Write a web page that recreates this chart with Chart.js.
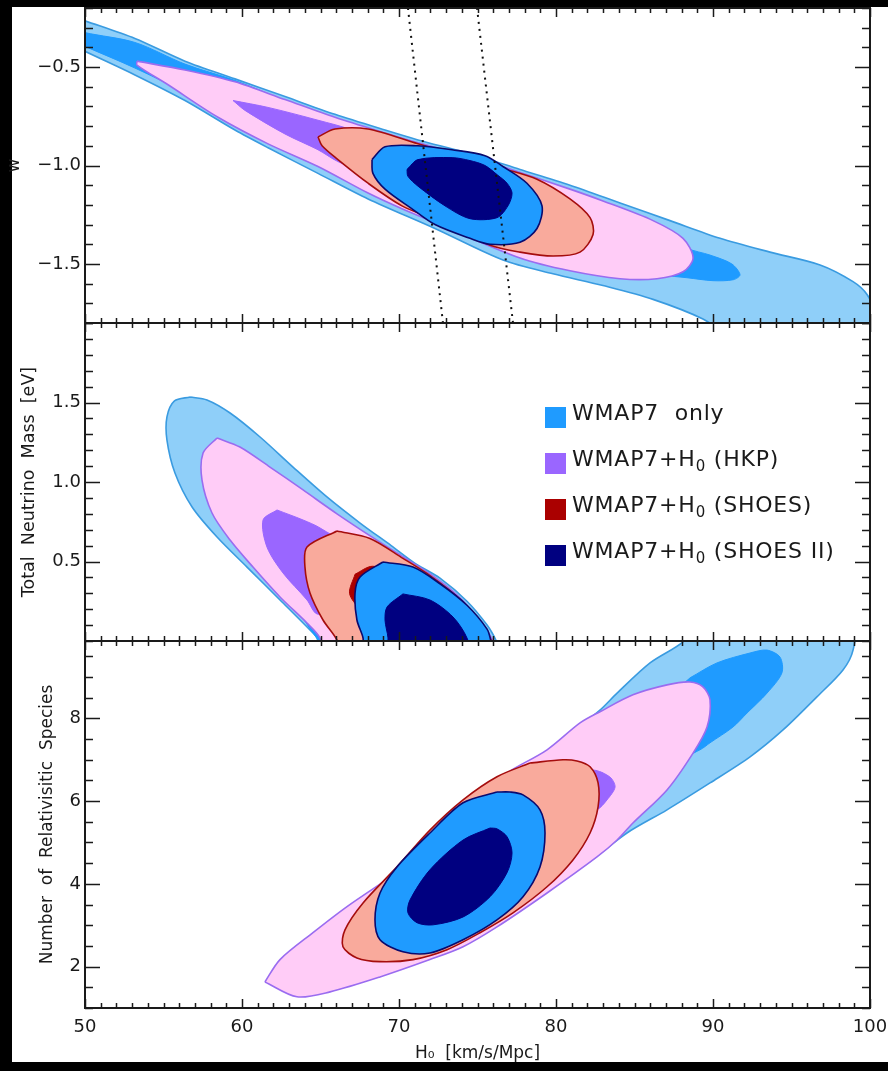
<!DOCTYPE html>
<html>
<head>
<meta charset="utf-8">
<script src="https://cdn.jsdelivr.net/npm/chart.js@4.4.1/dist/chart.umd.min.js"></script>
<style>
  body { margin: 0; background: #000; width: 888px; height: 1071px; overflow: hidden; position: relative; font-family: "DejaVu Sans", sans-serif; }
  #sheet { position: absolute; left: 12px; top: 7px; width: 876px; height: 1055px; background: #fff; }
  canvas { position: absolute; left: 0; }
  .sw { position: absolute; left: 545px; width: 21px; height: 21px; }
  .lab { position: absolute; left: 572px; font-size: 22px; line-height: 22px; letter-spacing: 0.8px; color: #1a1a1a; white-space: pre; }
  .lab sub { font-size: 15px; vertical-align: -5px; line-height: 0; }
</style>
</head>
<body>
<div id="sheet"></div>
<canvas id="panelW" width="888" height="330" style="top:0px"></canvas>
<canvas id="panelM" width="888" height="332" style="top:316px"></canvas>
<canvas id="panelN" width="888" height="437" style="top:634px"></canvas>

<div class="sw" style="top:407px;background:#1f9bff"></div>
<div class="lab" style="top:402px">WMAP7  only</div>
<div class="sw" style="top:453px;background:#9a66ff"></div>
<div class="lab" style="top:448px">WMAP7+H<sub>0</sub> (HKP)</div>
<div class="sw" style="top:499px;background:#aa0000"></div>
<div class="lab" style="top:494px">WMAP7+H<sub>0</sub> (SHOES)</div>
<div class="sw" style="top:545px;background:#000080"></div>
<div class="lab" style="top:540px">WMAP7+H<sub>0</sub> (SHOES II)</div>

<script>
// axis ticks
const xLabels = [50, 60, 70, 80, 90, 100];
const wLabels = [-1.5, -1.0, -0.5];
const mLabels = [0.5, 1.0, 1.5];
const nLabels = [2, 4, 6, 8];

// ---- top panel: w vs H0 (contour outlines, [H0, w]) ----
const wWmap95 = [[49,-0.237],[50,-0.265],[53.18,-0.355],[56.37,-0.47],[59.55,-0.56],[62.74,-0.65],[65.92,-0.74],[69.11,-0.82],[71.21,-0.87],[74.52,-0.94],[77.71,-1.02],[80.89,-1.1],[84.08,-1.19],[87.26,-1.28],[90.45,-1.37],[93.63,-1.44],[96.82,-1.505],[98.92,-1.59],[99.81,-1.655],[100.3,-1.75],[100.5,-1.95],[93,-1.95],[89.36,-1.78],[86.18,-1.68],[82.99,-1.61],[79.81,-1.55],[76.62,-1.48],[72.29,-1.32],[68.03,-1.17],[64.84,-1.04],[61.66,-0.91],[59.55,-0.82],[56.37,-0.67],[53.18,-0.54],[50,-0.42],[49,-0.38]];
const wWmap68 = [[49,-0.30],[50,-0.325],[53.18,-0.375],[56.37,-0.485],[59.55,-0.568],[62.74,-0.67],[66,-0.77],[70,-0.88],[75,-0.99],[80,-1.13],[84,-1.24],[86.5,-1.33],[88.34,-1.42],[89.81,-1.455],[91.2,-1.5],[91.72,-1.555],[91.3,-1.58],[90.0,-1.585],[88.34,-1.57],[85,-1.54],[80,-1.45],[75,-1.33],[70,-1.18],[65,-1.0],[60,-0.8],[56.37,-0.63],[53.18,-0.505],[50,-0.395],[49,-0.36]];
const wHkp95 = [[53.31,-0.47],[56.37,-0.515],[59.55,-0.575],[62.74,-0.665],[65.92,-0.755],[69.11,-0.835],[71.21,-0.885],[74.52,-0.955],[77.71,-1.035],[80.89,-1.12],[82.99,-1.18],[86.18,-1.28],[88.09,-1.37],[88.73,-1.47],[88.09,-1.54],[86.43,-1.575],[84.08,-1.575],[80.89,-1.535],[77.71,-1.47],[72.29,-1.29],[70.19,-1.22],[68.03,-1.14],[64.84,-1.005],[61.66,-0.89],[58.47,-0.755],[55.29,-0.59],[53.31,-0.49]];
const wHkp68 = [[59.43,-0.67],[61.66,-0.705],[64.84,-0.77],[67,-0.82],[69,-0.9],[70,-0.97],[69.5,-1.03],[67.5,-1.02],[66.11,-0.98],[64.84,-0.92],[62.74,-0.84],[60.19,-0.72]];
const wShoes95 = [[64.84,-0.855],[65.92,-0.815],[68.03,-0.815],[71.21,-0.89],[74.52,-0.965],[76.62,-1.015],[78.79,-1.07],[80.89,-1.17],[82.17,-1.265],[82.36,-1.35],[81.53,-1.44],[79.81,-1.46],[77.71,-1.44],[75.8,-1.405],[72.29,-1.275],[70.19,-1.205],[68.03,-1.09],[66.11,-0.97],[65.1,-0.9]];
const wShoes68 = [[70,-1.0],[72,-0.96],[75,-1.0],[77.5,-1.12],[78.3,-1.25],[77,-1.33],[74,-1.28],[71,-1.15]];
const wShoes2_95 = [[68.28,-0.97],[69.11,-0.905],[71.21,-0.9],[73.38,-0.92],[75.48,-0.95],[76.62,-1.005],[78.15,-1.09],[79.11,-1.205],[78.79,-1.32],[77.71,-1.39],[75.8,-1.4],[74.52,-1.37],[72.29,-1.3],[70.83,-1.22],[69.11,-1.12],[68.34,-1.04]];
const wShoes2_68 = [[70.51,-1.02],[71.21,-0.97],[73.38,-0.96],[74.52,-0.975],[75.48,-1.0],[76.3,-1.05],[76.88,-1.09],[77.2,-1.14],[76.94,-1.205],[76.24,-1.265],[74.52,-1.27],[72.93,-1.205],[71.21,-1.105],[70.57,-1.055]];
const wBand1 = [[70.57,-0.2],[72.8,-1.8]];
const wBand2 = [[74.97,-0.2],[77.26,-1.8]];

// ---- middle panel: total neutrino mass [eV] vs H0 ----
const mWmap95 = [[56.69,1.535],[57.77,1.516],[59.24,1.434],[61.15,1.283],[63.25,1.094],[65.41,0.906],[67.52,0.742],[69.5,0.6],[71,0.49],[72.61,0.395],[74.33,0.25],[75.61,0.1],[76.2,0.0],[76.6,-0.1],[65.0,-0.1],[64.78,0.019],[64.33,0.069],[62.42,0.258],[60.32,0.465],[58.41,0.654],[56.82,0.843],[55.73,1.057],[55.22,1.264],[55.22,1.409],[55.7,1.51]];
const mWmap68 = [[59,1.0],[61,0.95],[65,0.7],[68,0.45],[70,0.2],[70.5,-0.1],[66,-0.1],[62.5,0.35],[59.5,0.7]];
const mHkp95 = [[58.41,1.277],[59.87,1.22],[61.78,1.094],[63.89,0.95],[66.05,0.80],[68.34,0.65],[70.25,0.53],[72,0.42],[73.8,0.28],[75.3,0.11],[76.0,0.0],[76.4,-0.1],[65.2,-0.1],[64.97,0.019],[64.14,0.113],[62.42,0.277],[60.7,0.465],[59.24,0.635],[58.09,0.805],[57.45,1.013],[57.52,1.182]];
const mHkp68 = [[62.23,0.824],[63.89,0.761],[64.97,0.711],[66.5,0.6],[67,0.4],[66,0.2],[64.78,0.17],[64.14,0.258],[62.61,0.428],[61.59,0.591],[61.34,0.761]];
const mShoes95 = [[66.05,0.692],[68.15,0.645],[70.25,0.52],[72,0.41],[73.8,0.27],[75.3,0.1],[75.9,0.0],[76.3,-0.1],[66.3,-0.1],[66.05,0.006],[65.16,0.132],[64.33,0.302],[64.01,0.465],[64.14,0.591]];
const mShoes68 = [[67.2,0.42],[68.3,0.47],[70,0.42],[71,0.3],[71,0.1],[70,0.05],[68.5,0.1],[67.5,0.2],[66.85,0.3]];
const mShoes2_95 = [[68.98,0.497],[70.89,0.465],[72.61,0.36],[74.33,0.225],[75.61,0.075],[75.85,0.0],[76.0,-0.1],[67.8,-0.1],[67.71,0.019],[67.32,0.132],[67.2,0.302],[67.52,0.403]];
const mShoes2_68 = [[70.25,0.296],[71.97,0.258],[73.44,0.151],[74.33,0.019],[74.5,-0.1],[69.3,-0.1],[69.3,0.019],[69.11,0.132],[69.24,0.214]];

// ---- bottom panel: number of relativistic species vs H0 ----
const nWmap95 = [[78.8,6.9],[80.5,7.5],[82.8,8.2],[83.89,8.61],[85.99,9.34],[88.09,9.85],[88.6,10.2],[98.9,10.2],[98.92,9.65],[98.28,9.17],[96.62,8.52],[94.46,7.72],[92.36,7.07],[89.81,6.44],[87.07,5.79],[84.52,5.23],[82,4.5],[78,3.5],[74,2.6],[70,2.0],[66,1.5],[63.3,1.45],[62.3,1.8],[64,2.4],[67,3.3],[71,4.4],[75,5.6]];
const nWmap68 = [[88.54,8.98],[90.25,9.34],[92.36,9.58],[93.44,9.65],[94.27,9.48],[94.39,9.10],[93.44,8.61],[92.17,8.13],[91.27,7.79],[89.81,7.41],[89.17,7.24],[87.5,7.0],[86.5,7.6],[87.5,8.6]];
const nHkp95 = [[61.46,1.63],[62.42,2.17],[64.52,2.82],[66.69,3.45],[69.87,4.27],[73.06,5.14],[76.24,6.51],[79.43,7.24],[81.53,7.89],[82.8,8.16],[84.9,8.57],[87.07,8.81],[88.54,8.88],[89.36,8.76],[89.81,8.45],[89.62,7.79],[88.73,7.16],[87.07,6.27],[84.9,5.47],[83.89,5.06],[82.61,4.65],[79.43,3.78],[76.24,2.96],[74.08,2.48],[71.97,2.17],[68.79,1.75],[65.61,1.39],[63.5,1.27]];
const nHkp68 = [[67.5,2.9],[70,3.5],[75,4.6],[80,5.4],[82.61,5.79],[83.25,6.03],[83.76,6.34],[83.44,6.58],[82.36,6.75],[80,6.6],[75,5.6],[70,4.2]];
const nShoes95 = [[78.34,6.92],[80.45,7.0],[81.34,6.97],[82.17,6.83],[82.68,6.44],[82.68,5.86],[82.17,5.23],[81.08,4.58],[79.43,3.93],[77.26,3.3],[75.16,2.82],[73.06,2.41],[70.89,2.17],[68.79,2.12],[67.32,2.21],[66.43,2.48],[66.56,2.89],[67.71,3.54],[69.87,4.41],[71.97,5.3],[74.08,6.03],[76.24,6.59]];
const nShoes68 = [[70.5,3.0],[72.5,2.8],[75.5,3.3],[78,4.3],[79.0,5.2],[78.5,5.75],[76.5,5.95],[74,5.5],[71.5,4.5],[70,3.6]];
const nShoes2_95 = [[76.24,6.22],[77.07,6.22],[77.9,6.15],[78.98,5.79],[79.3,5.23],[78.98,4.41],[77.9,3.69],[76.24,3.13],[74.08,2.65],[71.97,2.33],[70.25,2.36],[68.79,2.65],[68.47,3.13],[68.79,3.78],[69.87,4.41],[71.97,5.23],[74.08,5.96]];
const nShoes2_68 = [[75.8,5.35],[76.24,5.33],[76.88,5.14],[77.2,4.75],[76.88,4.27],[75.8,3.69],[74.08,3.2],[72.17,3.01],[71.15,3.06],[70.57,3.3],[70.7,3.61],[71.97,4.34],[74.08,5.06]];

const C = {
  wmapLight: '#8fcff9', wmapLine: '#3a9be0', wmap: '#1f9bff',
  pink: '#ffccf7', pinkLine: '#9a6cf0', purple: '#9a66ff',
  salmon: '#f9aa9c', redLine: '#a50d0d', red: '#aa0000',
  navyLine: '#0a0a6e', navy: '#000080'
};

Chart.defaults.font.family = '"DejaVu Sans", sans-serif';
Chart.defaults.color = '#1a1a1a';

// closed filled contour
function region(pts, fill, line) {
  const closed = pts.concat([pts[0]]);
  return {
    data: closed.map(p => ({x: p[0], y: p[1]})),
    backgroundColor: fill,
    borderColor: line || fill,
    borderWidth: line ? 1.6 : 1,
    fill: 'shape',
    pointRadius: 0,
    tension: 0.3,
    clip: 0
  };
}

function dotted(pts) {
  return {
    data: pts.map(p => ({x: p[0], y: p[1]})),
    borderColor: '#111',
    borderWidth: 2,
    borderDash: [2, 5],
    fill: false,
    pointRadius: 0,
    clip: 0
  };
}

// first in list ends up at the bottom
function stackOrder(list) {
  return list.map((d, i) => Object.assign(d, {order: list.length - i}));
}

const oneDecimal = v => (v < 0 ? '\u2212' : '') + Math.abs(v).toFixed(1);
const whole = v => String(v);

// frame + inward ticks on all four sides
const frameTicks = {
  id: 'frameTicks',
  afterDraw(chart, args, opts) {
    const {ctx, chartArea: a} = chart;
    const xs = chart.scales.x, ys = chart.scales.y;
    const near = (v, list) => list.some(m => Math.abs(m - v) < 1e-6);
    ctx.save();
    ctx.strokeStyle = '#1a1a1a';
    ctx.lineWidth = 1.5;
    ctx.beginPath();
    const nx = Math.round((xs.max - xs.min) / opts.xStep);
    for (let i = 0; i <= nx; i++) {
      const v = xs.min + i * opts.xStep;
      const p = Math.round(xs.getPixelForValue(v)) + 0.5;
      const len = near(v, xLabels) ? 9 : 5;
      ctx.moveTo(p, a.bottom); ctx.lineTo(p, a.bottom - len);
      ctx.moveTo(p, a.top); ctx.lineTo(p, a.top + len);
    }
    const ny = Math.floor((ys.max - ys.min) / opts.yStep + 1e-6);
    for (let i = 0; i <= ny; i++) {
      const v = ys.min + i * opts.yStep;
      const p = Math.round(ys.getPixelForValue(v)) + 0.5;
      const len = near(v, opts.yMajor) ? 15 : 8;
      ctx.moveTo(a.left, p); ctx.lineTo(a.left + len, p);
      ctx.moveTo(a.right, p); ctx.lineTo(a.right - len, p);
    }
    ctx.stroke();
    ctx.lineWidth = 2;
    ctx.strokeRect(a.left, a.top, a.right - a.left, a.bottom - a.top);
    ctx.restore();
  }
};

function makePanel(id, datasets, cfg) {
  return new Chart(document.getElementById(id), {
    type: 'line',
    data: {datasets: stackOrder(datasets)},
    options: {
      responsive: false,
      animation: false,
      events: [],
      layout: {padding: cfg.padding},
      plugins: {
        legend: {display: false},
        tooltip: {enabled: false},
        frameTicks: {xStep: 1, yStep: cfg.step, yMajor: cfg.labels}
      },
      scales: {
        x: {
          type: 'linear', min: 50, max: 100,
          display: cfg.showX,
          afterBuildTicks: s => { s.ticks = xLabels.map(v => ({value: v})); },
          afterFit: s => {
            if (cfg.showX) s.height = 63;
            s.paddingLeft = 0; s.paddingRight = 0;
          },
          grid: {display: false, drawTicks: false},
          border: {display: false},
          ticks: {padding: 9, autoSkip: false, maxRotation: 0, font: {size: 18}},
          title: {display: true, text: 'H\u2080  [km/s/Mpc]', font: {size: 17}, padding: {top: 0, bottom: 7}}
        },
        y: {
          type: 'linear', min: cfg.min, max: cfg.max,
          afterBuildTicks: s => { s.ticks = cfg.labels.map(v => ({value: v})); },
          afterFit: s => { s.width = 85; s.paddingTop = 0; s.paddingBottom = 0; },
          grid: {display: false, drawTicks: false},
          border: {display: false},
          ticks: {padding: 4, autoSkip: false, font: {size: 18}, callback: cfg.fmt},
          title: {display: true, text: cfg.title, font: {size: cfg.titleSize}, padding: {top: cfg.titlePad, bottom: 0}}
        }
      }
    },
    plugins: [frameTicks]
  });
}

makePanel('panelW', [
  region(wWmap95, C.wmapLight, C.wmapLine),
  region(wWmap68, C.wmap),
  region(wHkp95, C.pink, C.pinkLine),
  region(wHkp68, C.purple),
  region(wShoes95, C.salmon, C.redLine),
  region(wShoes68, C.red),
  region(wShoes2_95, C.wmap, C.navyLine),
  region(wShoes2_68, C.navy),
  dotted(wBand1),
  dotted(wBand2)
], {min: -1.8, max: -0.2, step: 0.1, labels: wLabels, fmt: oneDecimal, title: 'w', titleSize: 17, titlePad: 4,
    padding: {top: 8, bottom: 7, left: 0, right: 18}, showX: false});

makePanel('panelM', [
  region(mWmap95, C.wmapLight, C.wmapLine),
  region(mWmap68, C.wmap),
  region(mHkp95, C.pink, C.pinkLine),
  region(mHkp68, C.purple),
  region(mShoes95, C.salmon, C.redLine),
  region(mShoes68, C.red),
  region(mShoes2_95, C.wmap, C.navyLine),
  region(mShoes2_68, C.navy)
], {min: 0, max: 2, step: 0.1, labels: mLabels, fmt: oneDecimal, title: 'Total  Neutrino  Mass  [eV]', titleSize: 17.5, titlePad: 19,
    padding: {top: 7, bottom: 7, left: 0, right: 18}, showX: false});

makePanel('panelN', [
  region(nWmap95, C.wmapLight, C.wmapLine),
  region(nWmap68, C.wmap),
  region(nHkp95, C.pink, C.pinkLine),
  region(nHkp68, C.purple),
  region(nShoes95, C.salmon, C.redLine),
  region(nShoes68, C.red),
  region(nShoes2_95, C.wmap, C.navyLine),
  region(nShoes2_68, C.navy)
], {min: 1, max: 9.87, step: 0.5, labels: nLabels, fmt: whole, title: 'Number  of  Relativisitic  Species', titleSize: 17, titlePad: 37,
    padding: {top: 7, bottom: 0, left: 0, right: 18}, showX: true});
</script>
</body>
</html>
